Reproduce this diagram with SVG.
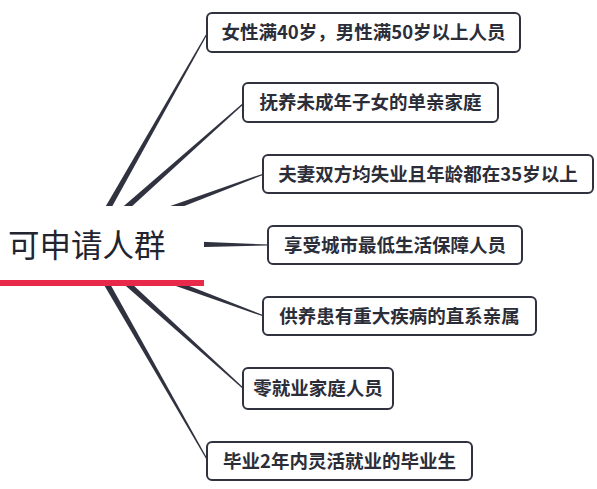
<svg xmlns="http://www.w3.org/2000/svg" width="597" height="489" viewBox="0 0 597 489">
<style>
.box{fill:#ffffff;stroke:#30323f;stroke-width:2}
.lbl{font-family:"Noto Sans CJK SC","Noto Sans",sans-serif;font-size:18.5px;font-weight:bold;fill:#2b2d38;text-anchor:middle}
.conn{fill:#30323f}
.root{font-family:"Noto Sans CJK SC","Noto Sans",sans-serif;font-size:31.5px;fill:#222430}
</style>
<rect width="597" height="489" fill="#ffffff"/>
<g id="connectors">
<polygon class="conn" points="106.6,216.5 208.5,32.3 207.5,31.7 101.5,213.5"/>
<polygon class="conn" points="120.0,217.2 244.4,103.4 243.6,102.6 116.0,212.8"/>
<polygon class="conn" points="154.5,217.8 264.2,174.6 263.8,173.4 152.5,212.2"/>
<polygon class="conn" points="195,241.5 269,244.6 269,245.4 195,247.2"/>
<polygon class="conn" points="154.3,272.2 264.2,315.4 263.8,316.6 152.3,277.8"/>
<polygon class="conn" points="120.0,272.8 244.4,388.6 243.6,389.4 116.0,277.2"/>
<polygon class="conn" points="104.3,273.5 208.5,460.7 207.5,461.3 99.1,276.5"/>
</g>
<g id="root">
<rect x="0" y="206" width="204" height="74" fill="#ffffff"/>
<rect x="0" y="280" width="204" height="6" fill="#e8294a"/>
<text class="root" x="8" y="257">可申请人群</text>
</g>
<g id="n1"><rect class="box" x="207" y="13" width="313" height="39" rx="5"/><text class="lbl" x="363.5" y="39">女性满40岁，男性满50岁以上人员</text></g>
<g id="n2"><rect class="box" x="243" y="83" width="255" height="39" rx="5"/><text class="lbl" x="370.5" y="109">抚养未成年子女的单亲家庭</text></g>
<g id="n3"><rect class="box" x="263" y="155" width="330" height="38" rx="5"/><text class="lbl" x="428" y="180.5">夫妻双方均失业且年龄都在35岁以上</text></g>
<g id="n4"><rect class="box" x="268" y="226" width="254" height="38" rx="5"/><text class="lbl" x="395" y="251.5">享受城市最低生活保障人员</text></g>
<g id="n5"><rect class="box" x="263" y="297" width="273" height="38" rx="5"/><text class="lbl" x="399.5" y="322.5">供养患有重大疾病的直系亲属</text></g>
<g id="n6"><rect class="box" x="243" y="368" width="150" height="41" rx="5"/><text class="lbl" x="318" y="395">零就业家庭人员</text></g>
<g id="n7"><rect class="box" x="207" y="442" width="265" height="38" rx="5"/><text class="lbl" x="339.5" y="467.5">毕业2年内灵活就业的毕业生</text></g>
</svg>
